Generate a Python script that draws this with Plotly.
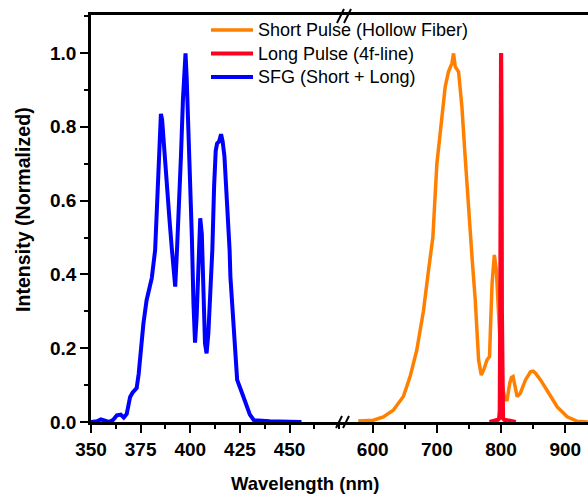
import plotly.graph_objects as go

# ---------------- data ----------------
sfg_wl = [350, 353, 355, 357, 359, 361, 363, 365, 366.5, 368, 369.7, 371, 373, 374,
          375.2, 376.4, 378, 380.6, 382.3, 383.5, 384.5, 385.2, 385.8, 386.5, 388.2,
          389.5, 390.7, 391.5, 392.4, 393.3, 394.1, 395.3, 396.3, 397.1, 397.6, 398.2,
          399.1, 400.8, 401.6, 402.4, 403.2, 404.1, 405, 405.8, 406.3, 407.4, 408.2,
          409.1, 410.3, 411.1, 412, 412.8, 413.5, 414.5, 415.5, 416.3, 417.2, 418.5,
          419.8, 420.2, 421.9, 423.6, 426.1, 428.6, 430, 432, 435, 440, 450, 456]
sfg_val = [0.0, 0.002, 0.007, 0.004, 0.0, 0.005, 0.018, 0.02, 0.012, 0.022, 0.068, 0.08,
           0.092, 0.13, 0.2, 0.267, 0.33, 0.39, 0.466, 0.62, 0.78, 0.835, 0.82, 0.764,
           0.665, 0.55, 0.47, 0.43, 0.367, 0.466, 0.556, 0.72, 0.873, 0.97, 0.999, 0.93,
           0.80, 0.50, 0.32, 0.215, 0.285, 0.42, 0.552, 0.51, 0.376, 0.213, 0.186, 0.24,
           0.376, 0.466, 0.64, 0.735, 0.755, 0.76, 0.78, 0.76, 0.72, 0.60, 0.466, 0.394,
           0.24, 0.114, 0.078, 0.041, 0.02, 0.005, 0.003, 0.002, 0.001, 0.0]

short_wl = [577.5, 590, 601, 616.6, 632, 647.8, 658.3, 668.7, 679, 686.9, 693.7, 700,
            707.8, 713, 718, 723.4, 726, 728.6, 733.8, 739, 744, 750, 755, 759.8, 765,
            769.2, 772.9, 778, 782, 784, 786, 789.5, 792.7, 795, 798, 802, 806, 809.4,
            813.5, 816, 818.7, 822, 825, 830, 838, 845.8, 850, 853.6, 861.4, 874.4,
            887.5, 903, 918.8, 935]
short_val = [0.003, 0.003, 0.005, 0.014, 0.032, 0.069, 0.123, 0.195, 0.30, 0.41, 0.50,
             0.70, 0.827, 0.909, 0.949, 0.972, 0.999, 0.963, 0.949, 0.854, 0.72, 0.55,
             0.44, 0.33, 0.168, 0.127, 0.141, 0.168, 0.177, 0.28, 0.376, 0.453, 0.41,
             0.33, 0.22, 0.10, 0.06, 0.06, 0.105, 0.12, 0.123, 0.09, 0.069, 0.078, 0.114,
             0.136, 0.138, 0.132, 0.114, 0.078, 0.041, 0.014, 0.002, 0.0]

long_wl = [782, 790, 795, 797, 798, 798.8, 799.3, 800, 800.7, 801.2, 802, 803, 805,
           810, 815, 823]
long_val = [0.0, 0.003, 0.006, 0.01, 0.03, 0.3, 0.8, 1.0, 0.8, 0.3, 0.03, 0.01, 0.006,
            0.004, 0.003, 0.0]

names = ["Short Pulse (Hollow Fiber)", "Long Pulse (4f-line)", "SFG (Short + Long)"]
colors = ["#FF8000", "#FF0020", "#0000FF"]
widths = [3.5, 4.2, 4.0]

left_ticks = [350, 375, 400, 425, 450]
right_ticks = [600, 700, 800, 900]
y_ticks = [0.0, 0.2, 0.4, 0.6, 0.8, 1.0]

# ---------------- layout geometry ----------------
W, H = 588, 494
ML, MR, MT, MB = 91, 0, 15, 72
PW, PH = W - ML - MR, H - MT - MB
BREAK_PX = 342
dbreak = (BREAK_PX - ML) / PW


def px_x(px):
    return (px - ML) / PW


def px_y(py):
    return (H - MB - py) / PH


FONT = "Liberation Sans, Arial, sans-serif"

fig = go.Figure()
fig.add_trace(go.Scatter(x=short_wl, y=short_val, mode="lines", name=names[0],
                         line=dict(color=colors[0], width=widths[0]), xaxis="x2", yaxis="y"))
fig.add_trace(go.Scatter(x=long_wl, y=long_val, mode="lines", name=names[1],
                         line=dict(color=colors[1], width=widths[1]), xaxis="x2", yaxis="y"))
fig.add_trace(go.Scatter(x=sfg_wl, y=sfg_val, mode="lines", name=names[2],
                         line=dict(color=colors[2], width=widths[2]), xaxis="x", yaxis="y"))

tickfont = dict(family=FONT, size=19, color="black", weight="bold")
common_x = dict(showline=True, linecolor="black", linewidth=2.5, mirror=True,
                ticks="outside", ticklen=8, tickwidth=2, tickcolor="black",
                showgrid=False, zeroline=False, tickfont=tickfont)

fig.update_layout(
    width=W, height=H,
    margin=dict(l=ML, r=MR, t=MT, b=MB),
    paper_bgcolor="white", plot_bgcolor="white",
    xaxis=dict(domain=[0, dbreak], range=[350, 476.4], tickvals=left_ticks,
               minor=dict(ticks="outside", ticklen=4, tickwidth=2, tickcolor="black",
                          dtick=12.5, tick0=350),
               anchor="y", **common_x),
    xaxis2=dict(domain=[dbreak, 1], range=[552.2, 935.4], tickvals=right_ticks,
                minor=dict(ticks="outside", ticklen=4, tickwidth=2, tickcolor="black",
                           dtick=50, tick0=550),
                anchor="y", **common_x),
    yaxis=dict(range=[0, 1.103], tickvals=y_ticks, tickformat=".1f",
               showline=True, linecolor="black", linewidth=2.5, mirror=False,
               ticks="outside", ticklen=8, tickwidth=2, tickcolor="black",
               minor=dict(ticks="outside", ticklen=4, tickwidth=2, tickcolor="black",
                          dtick=0.1, tick0=0),
               showgrid=False, zeroline=False, tickfont=tickfont),
    showlegend=False,
)

# legend (drawn to match the reference's long sample lines and tight rows)
legend_rows = [30, 53.5, 77]
for name, color, w, ry in zip(names, colors, widths, legend_rows):
    fig.add_shape(type="line", xref="paper", yref="paper",
                  x0=px_x(211), x1=px_x(253), y0=px_y(ry), y1=px_y(ry),
                  line=dict(color=color, width=w))
    fig.add_annotation(text=name, xref="paper", yref="paper",
                       x=px_x(256), y=px_y(ry), showarrow=False,
                       xanchor="left", yanchor="middle",
                       font=dict(family=FONT, size=18, color="black"))

# axis titles
fig.add_annotation(text="Wavelength (nm)", xref="paper", yref="paper",
                   x=px_x(305), y=px_y(483), showarrow=False,
                   font=dict(family=FONT, size=18.5, color="black", weight="bold"),
                   xanchor="center", yanchor="middle")
fig.add_annotation(text="Intensity (Normalized)", xref="paper", yref="paper",
                   x=px_x(23), y=px_y(210), showarrow=False, textangle=-90,
                   font=dict(family=FONT, size=19.6, color="black", weight="bold"),
                   xanchor="center", yanchor="middle")

# axis break marks "//"
for (x0, y0, x1, y1) in [(336, 428, 342, 416), (343, 428, 349, 416),
                         (337, 23, 344, 9), (344, 23, 351, 9)]:
    fig.add_shape(type="line", xref="paper", yref="paper",
                  x0=px_x(x0), y0=px_y(y0), x1=px_x(x1), y1=px_y(y1),
                  line=dict(color="black", width=2))

fig.write_html("out.html", config={"displayModeBar": False},
               post_script="document.body.style.margin='0';document.body.style.overflow='hidden';")
